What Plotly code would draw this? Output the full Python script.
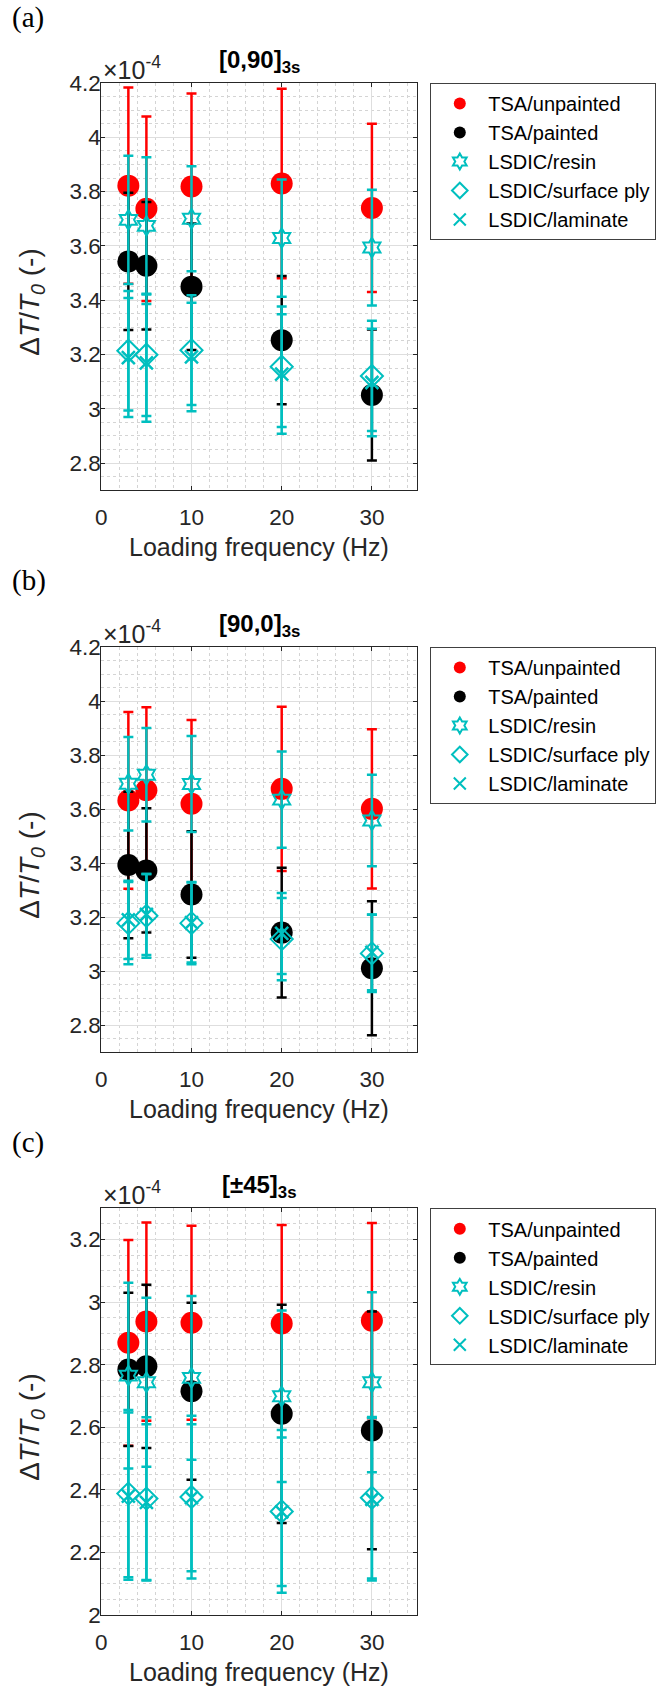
import plotly.graph_objects as go

W, H = 662, 1690

# ---------------- data (values in units of 1e-4) ----------------
freq = [3, 5, 10, 20, 30]
series_names = ["TSA/unpainted", "TSA/painted", "LSDIC/resin",
                "LSDIC/surface ply", "LSDIC/laminate"]

# panel (a) [0,90]3s
a_unpainted = [3.822, 3.737, 3.819, 3.830, 3.740]
a_unpainted_err = [0.361, 0.340, 0.342, 0.349, 0.310]
a_painted = [3.543, 3.527, 3.450, 3.253, 3.051]
a_painted_err = [0.253, 0.235, 0.233, 0.236, 0.241]
a_resin = [3.696, 3.674, 3.700, 3.629, 3.594]
a_resin_err = [0.236, 0.253, 0.193, 0.216, 0.213]
a_surface = [3.214, 3.199, 3.216, 3.155, 3.121]
a_surface_err = [0.220, 0.225, 0.202, 0.222, 0.203]
a_laminate = [3.189, 3.169, 3.191, 3.128, 3.097]
a_laminate_err = [0.219, 0.217, 0.200, 0.220, 0.198]

# panel (b) [90,0]3s
b_unpainted = [3.632, 3.670, 3.620, 3.675, 3.601]
b_unpainted_err = [0.327, 0.307, 0.310, 0.304, 0.295]
b_painted = [3.393, 3.373, 3.284, 3.143, 3.011]
b_painted_err = [0.271, 0.230, 0.234, 0.240, 0.248]
b_resin = [3.694, 3.727, 3.693, 3.635, 3.558]
b_resin_err = [0.173, 0.173, 0.178, 0.178, 0.169]
b_surface = [3.178, 3.205, 3.178, 3.119, 3.066]
b_surface_err = [0.152, 0.155, 0.152, 0.152, 0.143]
b_laminate = [3.190, 3.210, 3.180, 3.140, 3.070]
b_laminate_err = [0.145, 0.150, 0.148, 0.150, 0.140]

# panel (c) [±45]3s
c_unpainted = [2.870, 2.938, 2.934, 2.932, 2.941]
c_unpainted_err = [0.329, 0.317, 0.310, 0.315, 0.312]
c_painted = [2.785, 2.795, 2.715, 2.643, 2.590]
c_painted_err = [0.245, 0.261, 0.283, 0.349, 0.380]
c_resin = [2.765, 2.744, 2.758, 2.699, 2.744]
c_resin_err = [0.297, 0.270, 0.262, 0.274, 0.288]
c_surface = [2.388, 2.372, 2.377, 2.331, 2.375]
c_surface_err = [0.267, 0.260, 0.260, 0.260, 0.258]
c_laminate = [2.380, 2.360, 2.375, 2.330, 2.370]
c_laminate_err = [0.267, 0.250, 0.235, 0.237, 0.260]

x_tickvals = [0, 10, 20, 30]
ab_tickvals = [2.8, 3.0, 3.2, 3.4, 3.6, 3.8, 4.0, 4.2]
ab_ticktext = ["2.8", "3", "3.2", "3.4", "3.6", "3.8", "4", "4.2"]
c_tickvals = [2.0, 2.2, 2.4, 2.6, 2.8, 3.0, 3.2]
c_ticktext = ["2", "2.2", "2.4", "2.6", "2.8", "3", "3.2"]

panel_labels = ["(a)", "(b)", "(c)"]
panel_titles = ["[0,90]<sub>3s</sub>", "[90,0]<sub>3s</sub>", "[\u00b145]<sub>3s</sub>"]
x_title = "Loading frequency (Hz)"
y_title = "\u0394<i>T</i>/<i>T</i><sub><i>0</i></sub> (-)"
exp_label = "\u00d710<sup>-4</sup>"

panels = [
    dict(vals=[a_unpainted, a_painted, a_resin, a_surface, a_laminate],
         errs=[a_unpainted_err, a_painted_err, a_resin_err, a_surface_err, a_laminate_err],
         yrange=[2.7, 4.2], tickvals=ab_tickvals, ticktext=ab_ticktext,
         top=83.0, bottom=490.3),
    dict(vals=[b_unpainted, b_painted, b_resin, b_surface, b_laminate],
         errs=[b_unpainted_err, b_painted_err, b_resin_err, b_surface_err, b_laminate_err],
         yrange=[2.7, 4.2], tickvals=ab_tickvals, ticktext=ab_ticktext,
         top=647.0, bottom=1052.3),
    dict(vals=[c_unpainted, c_painted, c_resin, c_surface, c_laminate],
         errs=[c_unpainted_err, c_painted_err, c_resin_err, c_surface_err, c_laminate_err],
         yrange=[2.0, 3.3], tickvals=c_tickvals, ticktext=c_ticktext,
         top=1208.3, bottom=1615.0),
]

# ---------------- styles ----------------
CYAN = "#00BFBF"
AX = "#262626"
FONT = "Liberation Sans, Arial, Helvetica, sans-serif"
styles = [
    dict(color="#FF0000", symbol="circle", size=22, lw=0),
    dict(color="#000000", symbol="circle", size=22, lw=0),
    dict(color=CYAN, symbol="hexagram-open", size=15, lw=2),
    dict(color=CYAN, symbol="diamond-open", size=17, lw=2),
    dict(color=CYAN, symbol="x-thin", size=13, lw=2.5),
]

AX_LEFT, AX_RIGHT = 101.3, 417.0


def px_x(p):
    return p / W


def px_y(p):
    return 1 - p / H


fig = go.Figure()
annotations = []
layout = dict(
    width=W, height=H, margin=dict(l=0, r=0, t=0, b=0, autoexpand=False),
    paper_bgcolor="white", plot_bgcolor="white", template="none",
    showlegend=True, font=dict(family=FONT, color=AX),
)

for i, p in enumerate(panels):
    n = "" if i == 0 else str(i + 1)
    xa, ya = "x" + n, "y" + n
    leg = "legend" + n
    for k in range(5):
        st = styles[k]
        marker = dict(symbol=st["symbol"], size=st["size"], color=st["color"])
        if st["lw"]:
            marker["line"] = dict(width=st["lw"], color=st["color"])
        fig.add_trace(go.Scatter(
            x=freq, y=p["vals"][k], mode="markers", name=series_names[k],
            marker=marker, xaxis=xa, yaxis=ya, legend=leg,
            error_y=dict(type="data", array=p["errs"][k], symmetric=True,
                         color=st["color"], thickness=2.5, width=5),
        ))
    common = dict(
        showline=True, linecolor=AX, linewidth=1, mirror="ticks",
        ticks="inside", ticklen=4, tickcolor=AX, tickwidth=1,
        showgrid=True, gridcolor="#DEDEDE", gridwidth=1, zeroline=False,
        tickfont=dict(family=FONT, size=22.5, color=AX), automargin=False,
    )
    layout["xaxis" + n] = dict(
        common, domain=[px_x(AX_LEFT), px_x(AX_RIGHT)], range=[0, 35],
        tickvals=x_tickvals, anchor=ya, ticklabelstandoff=7,
        minor=dict(dtick=2, tick0=0, showgrid=True, gridcolor="#D4D4D4",
                   griddash="dot", gridwidth=1, ticks=""),
    )
    layout["yaxis" + n] = dict(
        common, domain=[px_y(p["bottom"]), px_y(p["top"])], range=p["yrange"],
        tickvals=p["tickvals"], ticktext=p["ticktext"], anchor=xa,
        ticklabelstandoff=-5,
        minor=dict(dtick=0.05, tick0=0, showgrid=True, gridcolor="#D4D4D4",
                   griddash="dot", gridwidth=1, ticks=""),
    )
    layout[leg] = dict(
        x=px_x(430.3), y=px_y(p["top"]), xanchor="left", yanchor="top",
        bgcolor="white", bordercolor="#404040", borderwidth=1,
        font=dict(family=FONT, size=20, color="black"),
        itemsizing="constant", itemwidth=47, tracegroupgap=0,
    )
    cx = (AX_LEFT + AX_RIGHT) / 2
    # panel letter
    annotations.append(dict(
        text=panel_labels[i], x=px_x(10), y=px_y(p["top"] - 66), xref="paper", yref="paper",
        xanchor="left", yanchor="middle", showarrow=False,
        font=dict(family="Liberation Serif, Times New Roman, serif", size=29, color="black")))
    # title
    annotations.append(dict(
        text="<b>" + panel_titles[i] + "</b>", x=px_x(cx), y=px_y(p["top"] - 22),
        xref="paper", yref="paper", xanchor="center", yanchor="middle", showarrow=False,
        font=dict(family=FONT, size=24, color="black")))
    # exponent
    annotations.append(dict(
        text=exp_label, x=px_x(AX_LEFT), y=px_y(p["top"] + 3), xref="paper", yref="paper",
        xanchor="left", yanchor="bottom", showarrow=False,
        font=dict(family=FONT, size=25, color=AX)))
    # x title
    annotations.append(dict(
        text=x_title, x=px_x(cx), y=px_y(p["bottom"] + 57), xref="paper", yref="paper",
        xanchor="center", yanchor="middle", showarrow=False,
        font=dict(family=FONT, size=25, color=AX)))
    # y title
    annotations.append(dict(
        text=y_title, x=px_x(32), y=px_y((p["top"] + p["bottom"]) / 2 + 16), xref="paper",
        yref="paper", xanchor="center", yanchor="middle", textangle=-90, showarrow=False,
        font=dict(family=FONT, size=28, color=AX)))

layout["annotations"] = annotations
fig.update_layout(**layout)
fig.write_html("out.html", config={"displayModeBar": False})
